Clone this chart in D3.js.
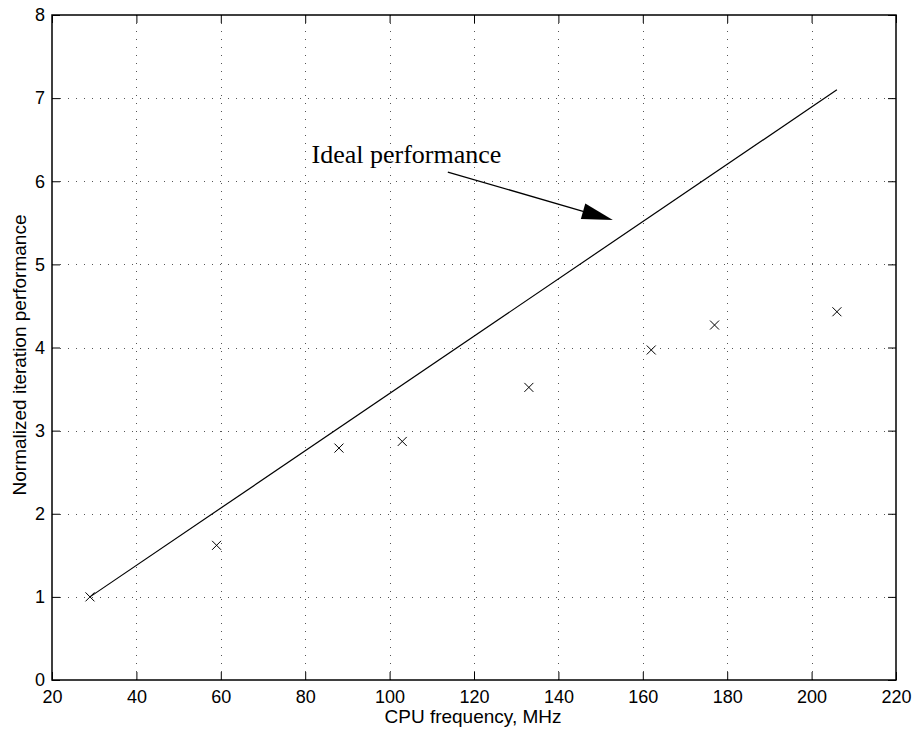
<!DOCTYPE html>
<html>
<head>
<meta charset="utf-8">
<script src="https://cdn.jsdelivr.net/npm/d3@7"></script>
<style>
  html, body { margin: 0; padding: 0; background: #fff; }
  svg { display: block; }
</style>
</head>
<body>
<svg id="chart" width="913" height="730"></svg>
<script>
// ---- Data ----
const freqMHz = [29, 59, 88, 103, 133, 162, 177, 206];
const measuredPerf = [1.00, 1.62, 2.79, 2.87, 3.52, 3.97, 4.27, 4.43];
const idealFreq = [29, 206];
const idealPerf = [1.00, 7.10];
const xTicks = [20, 40, 60, 80, 100, 120, 140, 160, 180, 200, 220];
const yTicks = [0, 1, 2, 3, 4, 5, 6, 7, 8];
const annotationText = "Ideal performance";
const annotationPos = [81.5, 6.22];
const arrowFrom = [113.8, 6.11];
const arrowTo = [152.9, 5.535];
const xLabel = "CPU frequency, MHz";
const yLabel = "Normalized iteration performance";

// ---- Layout ----
const svg = d3.select("#chart");
const L = 52, R = 896, T = 15, B = 680;
const x = d3.scaleLinear().domain([20, 220]).range([L, R]);
const y = d3.scaleLinear().domain([0, 8]).range([B, T]);
const tickLen = 8;
const sans = "'Liberation Sans', Arial, Helvetica, sans-serif";
const serif = "'Liberation Serif', 'Times New Roman', serif";

// Grid (dotted)
const grid = svg.append("g").attr("stroke", "#555").attr("stroke-width", 1)
  .attr("stroke-dasharray", "1,7").attr("shape-rendering", "crispEdges");
grid.selectAll("line.gx").data(xTicks.slice(1, -1)).join("line")
  .attr("x1", d => Math.round(x(d)) + 0.5).attr("x2", d => Math.round(x(d)) + 0.5)
  .attr("y1", B).attr("y2", T);
grid.selectAll("line.gy").data(yTicks.slice(1, -1)).join("line")
  .attr("y1", d => Math.round(y(d)) + 0.5).attr("y2", d => Math.round(y(d)) + 0.5)
  .attr("x1", L).attr("x2", R);

// Axes with inward ticks
const axB = d3.axisBottom(x).tickValues(xTicks).tickSize(-tickLen).tickPadding(10).tickFormat(d3.format("d"));
const axT = d3.axisTop(x).tickValues(xTicks).tickSize(-tickLen).tickFormat("");
const axL = d3.axisLeft(y).tickValues(yTicks).tickSize(-tickLen).tickPadding(7).tickFormat(d3.format("d"));
const axR = d3.axisRight(y).tickValues(yTicks).tickSize(-tickLen).tickFormat("");

function styleAxis(g) {
  g.selectAll(".domain").remove();
  g.selectAll(".tick line").attr("stroke", "#000").attr("stroke-width", 1);
  g.selectAll("text").attr("font-family", sans).attr("font-size", 18).attr("fill", "#000");
}
svg.append("g").attr("transform", `translate(0,${B})`).call(axB).call(styleAxis);
svg.append("g").attr("transform", `translate(0,${T})`).call(axT).call(styleAxis);
svg.append("g").attr("transform", `translate(${L},0)`).call(axL).call(styleAxis);
svg.append("g").attr("transform", `translate(${R},0)`).call(axR).call(styleAxis);

// Frame
svg.append("rect").attr("x", L).attr("y", T).attr("width", R - L).attr("height", B - T)
  .attr("fill", "none").attr("stroke", "#000").attr("stroke-width", 1.5);

// Ideal line
const line = d3.line().x(d => x(d[0])).y(d => y(d[1]));
svg.append("path").datum(d3.zip(idealFreq, idealPerf)).attr("d", line)
  .attr("fill", "none").attr("stroke", "#000").attr("stroke-width", 1.2);

// Markers (x)
const ms = 4.5;
svg.append("g").selectAll("path").data(d3.zip(freqMHz, measuredPerf)).join("path")
  .attr("d", d => {
    const cx = x(d[0]), cy = y(d[1]);
    return `M${cx - ms},${cy - ms}L${cx + ms},${cy + ms}M${cx - ms},${cy + ms}L${cx + ms},${cy - ms}`;
  })
  .attr("stroke", "#000").attr("stroke-width", 1).attr("fill", "none");

// Annotation
svg.append("text").attr("x", x(annotationPos[0])).attr("y", y(annotationPos[1]))
  .attr("font-family", serif).attr("font-size", 26).attr("fill", "#000").text(annotationText);

const ax0 = x(arrowFrom[0]), ay0 = y(arrowFrom[1]), ax1 = x(arrowTo[0]), ay1 = y(arrowTo[1]);
const dx = ax1 - ax0, dy = ay1 - ay0, len = Math.hypot(dx, dy);
const ux = dx / len, uy = dy / len;
const headL = 31, headW = 8;
const bx = ax1 - ux * headL, by = ay1 - uy * headL;
svg.append("line").attr("x1", ax0).attr("y1", ay0).attr("x2", bx).attr("y2", by)
  .attr("stroke", "#000").attr("stroke-width", 1.3);
svg.append("path")
  .attr("d", `M${ax1},${ay1}L${bx - uy * headW},${by + ux * headW}L${bx + uy * headW},${by - ux * headW}Z`)
  .attr("fill", "#000");

// Axis labels
svg.append("text").attr("x", 473).attr("y", 723).attr("text-anchor", "middle")
  .attr("font-family", sans).attr("font-size", 19).attr("fill", "#000").text(xLabel);
svg.append("text").attr("transform", `translate(26,355) rotate(-90)`)
  .attr("text-anchor", "middle").attr("font-family", sans).attr("font-size", 19)
  .attr("fill", "#000").text(yLabel);
</script>
</body>
</html>
